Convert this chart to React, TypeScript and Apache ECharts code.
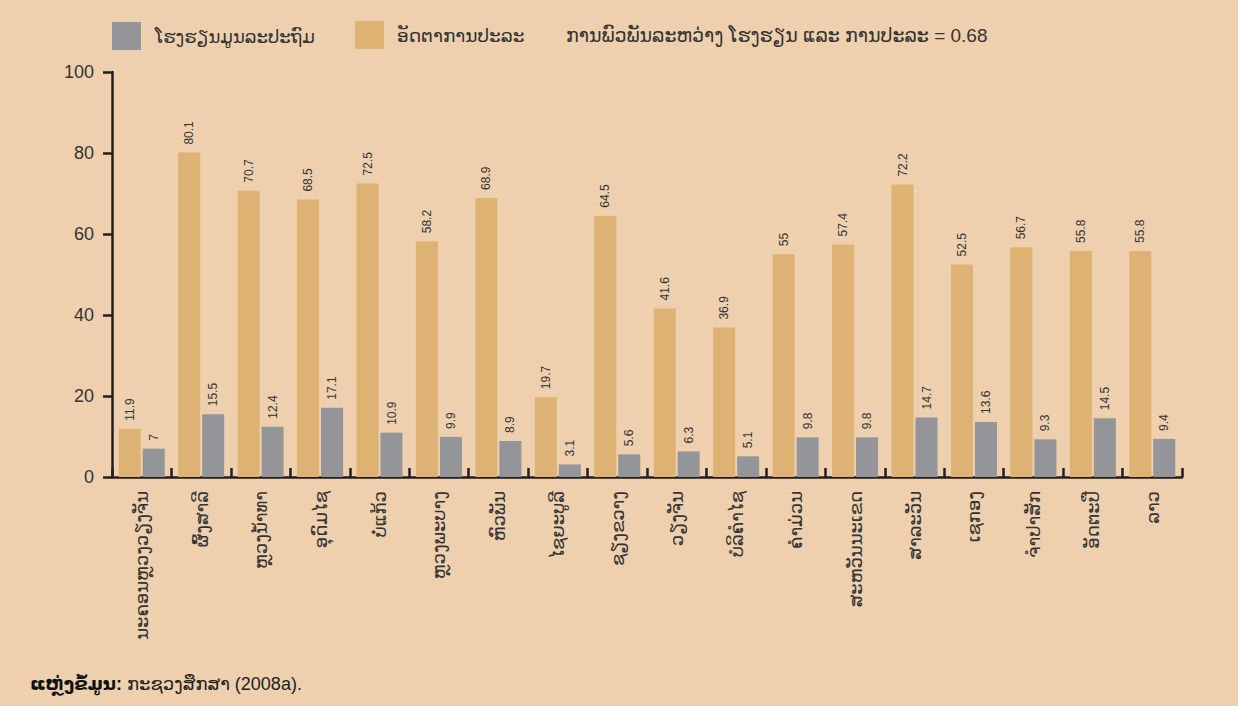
import React, { useEffect, useRef } from "react";
import * as echarts from "echarts";

const categories = [
  "ນະຄອນຫຼວງວຽງຈັນ",
  "ຜົ້ງສາລີ",
  "ຫຼວງນ້ຳທາ",
  "ອຸດົມໄຊ",
  "ບໍ່ແກ້ວ",
  "ຫຼວງພະບາງ",
  "ຫົວພັນ",
  "ໄຊຍະບູລີ",
  "ຊຽງຂວາງ",
  "ວຽງຈັນ",
  "ບໍລິຄຳໄຊ",
  "ຄຳມ່ວນ",
  "ສະຫວັນນະເຂດ",
  "ສາລະວັນ",
  "ເຊກອງ",
  "ຈຳປາສັກ",
  "ອັດຕະປື",
  "ລາວ",
];

const dropoutRate = [11.9, 80.1, 70.7, 68.5, 72.5, 58.2, 68.9, 19.7, 64.5, 41.6, 36.9, 55, 57.4, 72.2, 52.5, 56.7, 55.8, 55.8];
const primarySchools = [7, 15.5, 12.4, 17.1, 10.9, 9.9, 8.9, 3.1, 5.6, 6.3, 5.1, 9.8, 9.8, 14.7, 13.6, 9.3, 14.5, 9.4];
const yTicks = [0, 20, 40, 60, 80, 100];

const legendSchool = "ໂຮງຮຽນມູນລະປະຖົມ";
const legendDropout = "ອັດຕາການປະລະ";
const correlationNote = "ການພົວພັນລະຫວ່າງ ໂຮງຮຽນ ແລະ ການປະລະ = 0.68";
const sourceBold = "ແຫຼ່ງຂໍ້ມູນ:";
const sourceText = " ກະຊວງສຶກສາ (2008a).";

const BG = "#EED0AE";
const ORANGE = "#DEB272";
const GRAY = "#939598";
const DARK = "#231F20";
const TEXT = "#333333";
const FONT = "'Liberation Sans', 'DejaVu Sans', sans-serif";

const BAR_W = 22;
const BAR_GAP = 2;

function labelSeries(values: number[], offset: number) {
  return {
    type: "custom",
    data: values.map((v, i) => [i, v]),
    encode: { x: 0, y: 1 },
    z: 5,
    silent: true,
    renderItem: (_params: any, api: any) => {
      const pt = api.coord([api.value(0), api.value(1)]);
      return {
        type: "text",
        x: pt[0] + offset,
        y: pt[1] - 8,
        rotation: Math.PI / 2,
        style: {
          text: String(api.value(1)),
          align: "left",
          verticalAlign: "middle",
          fontSize: 12,
          fill: TEXT,
          fontFamily: FONT,
        },
      };
    },
  };
}

export default function App() {
  const ref = useRef<HTMLDivElement>(null);
  useEffect(() => {
    if (!ref.current) return;
    const chart = echarts.init(ref.current, null, { renderer: "svg" });
    const half = (BAR_W + BAR_GAP) / 2;
    chart.setOption({
      animation: false,
      backgroundColor: BG,
      textStyle: { fontFamily: FONT },
      grid: { left: 112, right: 56, top: 72, bottom: 229, containLabel: false },
      xAxis: {
        type: "category",
        data: categories,
        boundaryGap: true,
        axisLine: { show: true, lineStyle: { color: DARK, width: 2.5 } },
        axisTick: { show: true, inside: true, length: 9, lineStyle: { color: DARK, width: 2.5 } },
        axisLabel: {
          interval: 0,
          rotate: 90,
          margin: 14,
          fontSize: 18,
          color: TEXT,
          fontFamily: "'DejaVu Sans', sans-serif",
        },
      },
      yAxis: {
        type: "value",
        min: 0,
        max: 100,
        interval: 20,
        splitLine: { show: false },
        axisLine: { show: true, lineStyle: { color: DARK, width: 2.5 } },
        axisTick: { show: true, length: 9, lineStyle: { color: DARK, width: 2.5 } },
        axisLabel: {
          margin: 18,
          fontSize: 18,
          color: TEXT,
          fontFamily: FONT,
          formatter: (v: number) => (yTicks.includes(v) ? String(v) : ""),
        },
      },
      series: [
        {
          name: legendDropout,
          type: "bar",
          data: dropoutRate,
          barWidth: BAR_W,
          barGap: (BAR_GAP / BAR_W) * 100 + "%",
          itemStyle: { color: ORANGE },
        },
        {
          name: legendSchool,
          type: "bar",
          data: primarySchools,
          barWidth: BAR_W,
          barGap: (BAR_GAP / BAR_W) * 100 + "%",
          itemStyle: { color: GRAY },
        },
        labelSeries(dropoutRate, -half),
        labelSeries(primarySchools, half),
      ],
      graphic: [
        { type: "rect", shape: { x: 112, y: 22, width: 29, height: 28 }, style: { fill: GRAY } },
        {
          type: "text",
          x: 155,
          y: 36,
          style: { text: legendSchool, fontSize: 18, fill: TEXT, fontFamily: "'DejaVu Sans', sans-serif", verticalAlign: "middle" },
        },
        { type: "rect", shape: { x: 355, y: 21, width: 29, height: 28 }, style: { fill: ORANGE } },
        {
          type: "text",
          x: 397,
          y: 35,
          style: { text: legendDropout, fontSize: 18.5, fill: TEXT, fontFamily: "'DejaVu Sans', sans-serif", verticalAlign: "middle" },
        },
        {
          type: "text",
          x: 566,
          y: 35,
          style: { text: correlationNote, fontSize: 19, fill: TEXT, fontFamily: FONT, verticalAlign: "middle" },
        },
        {
          type: "text",
          x: 30,
          y: 684,
          style: {
            text: "{b|" + sourceBold + "}{n|" + sourceText + "}",
            verticalAlign: "middle",
            rich: {
              b: { fontSize: 18, fontWeight: "bold", fill: "#111", fontFamily: FONT },
              n: { fontSize: 18, fill: "#222", fontFamily: FONT },
            },
          },
        },
      ],
    });
    return () => chart.dispose();
  }, []);
  return <div ref={ref} style={{ width: 1238, height: 706, position: "absolute", left: 0, top: 0 }} />;
}
